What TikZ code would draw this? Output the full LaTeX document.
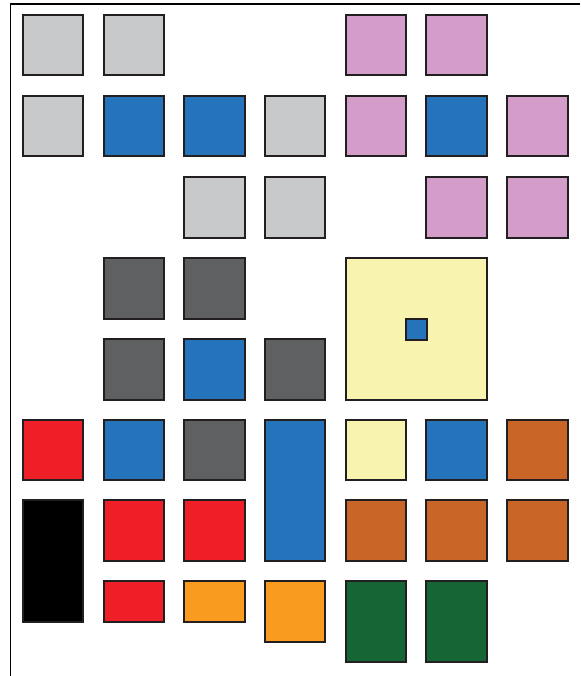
\documentclass[tikz,border=0pt]{standalone}
\usetikzlibrary{positioning}
\definecolor{cgray}{HTML}{C8C9CB}
\definecolor{cblue}{HTML}{2574BB}
\definecolor{cpink}{HTML}{D49CC8}
\definecolor{cdark}{HTML}{5F6062}
\definecolor{cyel}{HTML}{F8F4B0}
\definecolor{cred}{HTML}{EE1F27}
\definecolor{cbrown}{HTML}{C86527}
\definecolor{corange}{HTML}{F89B1E}
\definecolor{cgreen}{HTML}{166635}
\definecolor{cline}{HTML}{231F20}
\tikzset{sq/.style={draw=cline,line width=1.3pt,inner sep=0pt,outer sep=0pt,rectangle}}
\newcommand\blk[6]{\node[sq,fill=#6,minimum width={(#4-#2)*1pt},minimum height={(#5-#3)*1pt}] (#1) at ({(#2+#4)/2},{(#3+#5)/2}) {};}
\begin{document}
\begin{tikzpicture}[x=1pt,y=-1pt]
\useasboundingbox (0,0) rectangle (580,676);
\fill[white] (0,0) rectangle (580,676);
\draw[line width=1.8pt] (10.5,676) -- (10.5,4) -- (580,4);
% row 0
\blk{a00}{23}{15}{83}{75}{cgray}
\blk{a01}{104}{15}{164}{75}{cgray}
\blk{a04}{346}{15}{406}{75}{cpink}
\blk{a05}{426}{15}{487}{75}{cpink}
% row 1
\blk{a10}{23}{96}{83}{156}{cgray}
\blk{a11}{104}{96}{164}{156}{cblue}
\blk{a12}{184}{96}{245}{156}{cblue}
\blk{a13}{265}{96}{325}{156}{cgray}
\blk{a14}{346}{96}{406}{156}{cpink}
\blk{a15}{426}{96}{487}{156}{cblue}
\blk{a16}{507}{96}{568}{156}{cpink}
% row 2
\blk{a22}{184}{177}{245}{238}{cgray}
\blk{a23}{265}{177}{325}{238}{cgray}
\blk{a25}{426}{177}{487}{238}{cpink}
\blk{a26}{507}{177}{568}{238}{cpink}
% row 3
\blk{a31}{104}{258}{164}{319}{cdark}
\blk{a32}{184}{258}{245}{319}{cdark}
\blk{big}{346}{258}{487}{400}{cyel}
\blk{small}{406}{319}{427}{340}{cblue}
% row 4
\blk{a41}{104}{339}{164}{400}{cdark}
\blk{a42}{184}{339}{245}{400}{cblue}
\blk{a43}{265}{339}{325}{400}{cdark}
% row 5
\blk{a50}{23}{420}{83}{480}{cred}
\blk{a51}{104}{420}{164}{480}{cblue}
\blk{a52}{184}{420}{245}{480}{cdark}
\blk{a53}{265}{420}{325}{561}{cblue}
\blk{a54}{346}{420}{406}{480}{cyel}
\blk{a55}{426}{420}{487}{480}{cblue}
\blk{a56}{507}{420}{568}{480}{cbrown}
% row 6
\blk{a60}{23}{500}{83}{622}{black}
\blk{a61}{104}{500}{164}{561}{cred}
\blk{a62}{184}{500}{245}{561}{cred}
\blk{a64}{346}{500}{406}{561}{cbrown}
\blk{a65}{426}{500}{487}{561}{cbrown}
\blk{a66}{507}{500}{568}{561}{cbrown}
% row 7
\blk{a71}{104}{581}{164}{622}{cred}
\blk{a72}{184}{581}{245}{622}{corange}
\blk{a73}{265}{581}{325}{642}{corange}
\blk{a74}{346}{581}{406}{662}{cgreen}
\blk{a75}{426}{581}{487}{662}{cgreen}
\end{tikzpicture}
\end{document}
